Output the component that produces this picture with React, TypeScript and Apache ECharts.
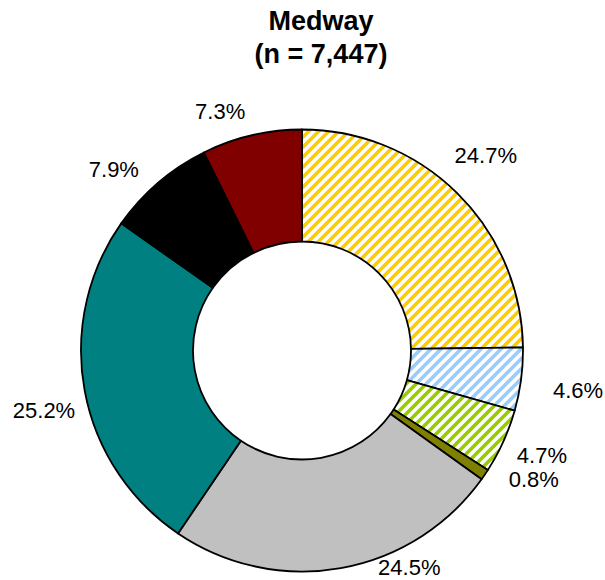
import React, { useEffect, useRef } from 'react';
import * as echarts from 'echarts';

// ---- data ----
const categories = ['Category 1', 'Category 2', 'Category 3', 'Category 4', 'Category 5', 'Category 6', 'Category 7', 'Category 8'];
const values = [24.7, 4.6, 4.7, 0.8, 24.5, 25.2, 7.9, 7.3];
const titleLines = ['Medway', '(n = 7,447)'];

// ---- styles / layout ----
const sliceColors = ['#FFCC00', '#99CCFF', '#99CC00', '#808000', '#C0C0C0', '#008080', '#000000', '#800000'];
const hatched = [true, true, true, false, false, false, false, false];
// label placement relative to each slice's mid-angle (degrees shift, distance from centre in px)
const labelAngleShift = [-1.3, 0.8, -0.6, -5.2, -16.2, -2.8, -5.5, -5.7];
const labelDistance = [268, 279, 262, 265, 242, 265, 261, 253];

const W = 605;
const H = 580;
const CX = 302;
const CY = 350.5;
const FONT = '"Liberation Sans", Arial, Helvetica, sans-serif';

function stripePattern(color: string) {
  const s = 10;
  const c = document.createElement('canvas');
  c.width = s;
  c.height = s;
  const ctx = c.getContext('2d')!;
  ctx.fillStyle = '#ffffff';
  ctx.fillRect(0, 0, s, s);
  ctx.strokeStyle = color;
  ctx.lineWidth = 3.6;
  ctx.beginPath();
  for (const o of [-s, 0, s]) {
    ctx.moveTo(o - 2, s + 2);
    ctx.lineTo(o + s + 2, -2);
  }
  ctx.stroke();
  return { image: c, repeat: 'repeat' as const };
}

export default function App() {
  const ref = useRef<HTMLDivElement>(null);

  useEffect(() => {
    if (!ref.current) return;
    const chart = echarts.init(ref.current, undefined, { renderer: 'svg' });
    const total = values.reduce((a, b) => a + b, 0);

    const data = values.map((v, i) => ({
      value: v,
      name: categories[i],
      itemStyle: { color: hatched[i] ? (stripePattern(sliceColors[i]) as any) : sliceColors[i] },
    }));

    chart.setOption({
      animation: false,
      backgroundColor: '#ffffff',
      graphic: titleLines.map((t, i) => ({
        type: 'text',
        x: 321,
        y: 21 + i * 33,
        style: {
          text: t,
          font: `bold 27px ${FONT}`,
          fill: '#000',
          textAlign: 'center',
          textVerticalAlign: 'middle',
        },
      })),
      series: [
        {
          type: 'pie',
          center: [CX, CY],
          radius: [109, 221],
          startAngle: 90,
          clockwise: true,
          avoidLabelOverlap: false,
          itemStyle: { borderColor: '#000', borderWidth: 1.8 },
          label: {
            show: true,
            position: 'outside',
            formatter: (p: any) => `${values[p.dataIndex].toFixed(1)}%`,
            fontFamily: FONT,
            fontSize: 22,
            lineHeight: 22,
            color: '#000',
          },
          labelLine: { show: false },
          labelLayout: (p: any) => {
            const i = p.dataIndex;
            let cum = 0;
            for (let j = 0; j < i; j++) cum += values[j];
            const mid = ((cum + values[i] / 2) / total) * 360 + labelAngleShift[i];
            const rad = (mid * Math.PI) / 180;
            const r = labelDistance[i];
            return {
              x: CX + r * Math.sin(rad),
              y: CY - r * Math.cos(rad),
              align: 'center',
              verticalAlign: 'middle',
            };
          },
          emphasis: { disabled: true },
          data,
        },
      ],
    });

    return () => chart.dispose();
  }, []);

  return (
    <div
      ref={ref}
      style={{ position: 'fixed', left: 0, top: 0, width: W, height: H, background: '#fff' }}
    />
  );
}
